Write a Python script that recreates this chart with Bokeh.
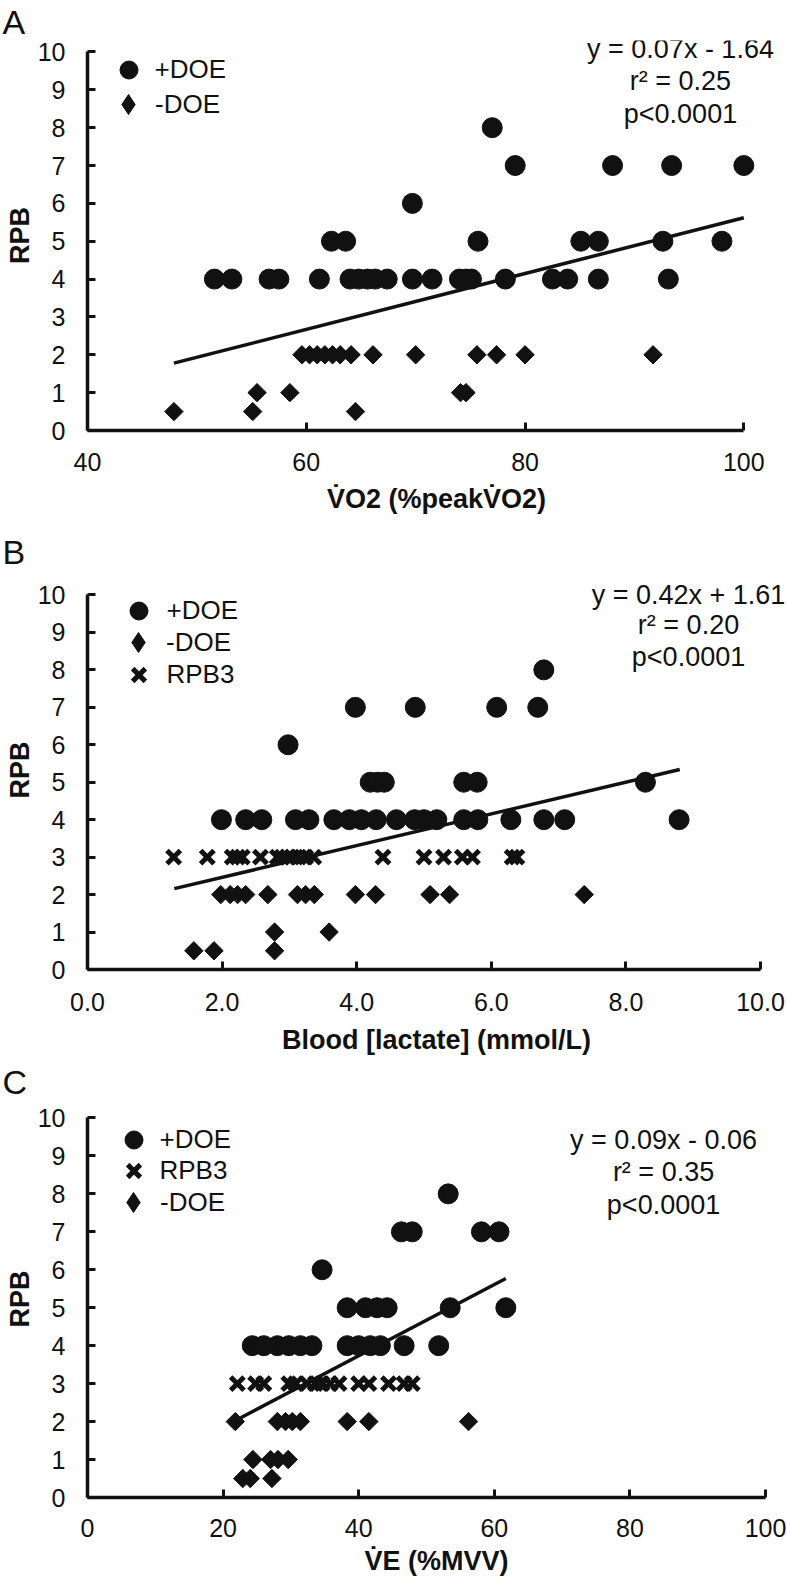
from bokeh.plotting import figure
from bokeh.layouts import column
from bokeh.models import Range1d, FixedTicker, Label, Legend, LegendItem
from bokeh.embed import file_html
from bokeh.resources import INLINE
import math

# ---------------- data ----------------
# Panel A: VO2 (%peak VO2) vs RPB
a_pos_x = [51.6, 53.2, 56.6, 57.5, 61.2, 64.0, 64.8, 65.6, 66.3, 67.4, 69.7, 71.5, 74.0, 74.6, 75.1,
           78.2, 82.5, 83.9, 86.7, 93.1,
           62.3, 63.6, 75.7, 85.1, 86.7, 92.6, 98.0,
           69.7,
           79.1, 88.0, 93.4, 100.0,
           77.0]
a_pos_y = [4] * 20 + [5] * 7 + [6] + [7] * 4 + [8]
a_neg_x = [59.6, 60.3, 61.0, 61.7, 62.4, 63.1, 64.1, 66.1, 70.0, 75.6, 77.4, 80.0, 91.7,
           55.5, 58.5, 74.1, 74.6,
           47.9, 55.1, 64.5]
a_neg_y = [2] * 13 + [1] * 4 + [0.5] * 3
a_trend_x = [47.9, 100.0]
a_trend_y = [1.78, 5.62]
a_stats = ["y = 0.07x - 1.64", "r² = 0.25", "p<0.0001"]
a_xticks = [40, 60, 80, 100]
a_xlabels = ["40", "60", "80", "100"]

# Panel B: Blood lactate vs RPB
b_pos_x = [1.99, 2.35, 2.59, 3.09, 3.29, 3.66, 3.89, 4.07, 4.29, 4.59, 4.86, 5.00, 5.19, 5.59, 5.80,
           6.29, 6.78, 7.09, 8.79,
           4.20, 4.31, 4.41, 5.59, 5.79, 8.29,
           2.98,
           3.98, 4.87, 6.08, 6.69,
           6.78]
b_pos_y = [4] * 19 + [5] * 6 + [6] + [7] * 4 + [8]
b_neg_x = [1.98, 2.12, 2.23, 2.35, 2.68, 3.12, 3.24, 3.37, 3.98, 4.28, 5.09, 5.38, 7.38,
           2.78, 3.59,
           1.58, 1.88, 2.78]
b_neg_y = [2] * 13 + [1] * 2 + [0.5] * 3
b_rpb3_x = [1.28, 1.78, 2.15, 2.23, 2.30, 2.57, 2.82, 2.89, 2.97, 3.04, 3.14, 3.24, 3.36, 4.39,
            5.00, 5.29, 5.57, 5.72, 6.31, 6.38]
b_rpb3_y = [3] * 20
b_trend_x = [1.29, 8.80]
b_trend_y = [2.16, 5.34]
b_stats = ["y = 0.42x + 1.61", "r² = 0.20", "p<0.0001"]
b_xticks = [0, 2, 4, 6, 8, 10]
b_xlabels = ["0.0", "2.0", "4.0", "6.0", "8.0", "10.0"]

# Panel C: VE (%MVV) vs RPB
c_pos_x = [24.3, 26.0, 28.0, 29.7, 31.4, 33.1, 38.3, 40.0, 41.7, 43.2, 46.7, 51.8,
           38.3, 41.0, 42.7, 44.2, 53.5, 61.7,
           34.6,
           46.3, 47.9, 58.1, 60.7,
           53.2]
c_pos_y = [4] * 12 + [5] * 6 + [6] + [7] * 4 + [8]
c_rpb3_x = [22.1, 24.8, 26.0, 29.7, 30.7, 32.4, 33.6, 34.6, 35.8, 37.1, 40.0, 41.5, 44.4, 46.7, 47.9]
c_rpb3_y = [3] * 15
c_neg_x = [21.8, 28.0, 29.2, 30.2, 31.4, 38.3, 41.5, 56.2,
           24.4, 27.0, 28.1, 29.6,
           22.9, 24.0, 27.2]
c_neg_y = [2] * 8 + [1] * 4 + [0.5] * 3
c_trend_x = [22.6, 61.7]
c_trend_y = [2.10, 5.77]
c_stats = ["y = 0.09x - 0.06", "r² = 0.35", "p<0.0001"]
c_xticks = [0, 20, 40, 60, 80, 100]
c_xlabels = ["0", "20", "40", "60", "80", "100"]

y_ticks = list(range(0, 11))

FONT = "Liberation Sans"
INK = "#111111"
FRAME_LEFT = 87


def make_panel(letter, xr, yend, xbounds, xticks, xlabels, xtitle, height, bottom,
               tick_standoff, x_title_standoff):
    p = figure(width=787, height=height, x_range=Range1d(*xr), y_range=Range1d(0, yend),
               output_backend="svg", toolbar_location=None,
               min_border_left=FRAME_LEFT, min_border_right=2,
               min_border_top=0, min_border_bottom=bottom)
    p.outline_line_color = None
    p.xgrid.visible = False
    p.ygrid.visible = False
    p.background_fill_color = "white"
    p.border_fill_color = "white"

    p.title.text = letter
    p.title.align = "left"
    p.title.offset = -85
    p.title.standoff = 0
    p.title.text_font = FONT
    p.title.text_font_size = "34px"
    p.title.text_font_style = "normal"
    p.title.text_color = INK

    xa = p.xaxis[0]
    ya = p.yaxis[0]
    xa.bounds = xbounds
    ya.bounds = (0, 10)
    xa.ticker = FixedTicker(ticks=xticks)
    xa.major_label_overrides = {t: l for t, l in zip(xticks, xlabels)}
    ya.ticker = FixedTicker(ticks=y_ticks)
    for ax in (xa, ya):
        ax.axis_line_width = 3.5
        ax.axis_line_color = INK
        ax.major_tick_line_width = 3
        ax.major_tick_line_color = INK
        ax.major_tick_in = 8
        ax.major_tick_out = 0
        ax.minor_tick_line_color = None
        ax.major_label_text_font = FONT
        ax.major_label_text_font_size = "25px"
        ax.major_label_text_color = INK
        ax.axis_label_text_font = FONT
        ax.axis_label_text_font_size = "27px"
        ax.axis_label_text_font_style = "bold"
        ax.axis_label_text_color = INK
    xa.major_label_standoff = tick_standoff
    xa.axis_label = xtitle
    xa.axis_label_standoff = x_title_standoff
    ya.major_label_standoff = 22
    ya.axis_label = "RPB"
    ya.axis_label_standoff = 0
    return p


def add_stats(p, x, ys, lines):
    for y, t in zip(ys, lines):
        p.add_layout(Label(x=x, y=y, text=t, text_font=FONT, text_font_size="27px",
                           text_color=INK, text_align="center", text_baseline="middle"))


def add_legend_item(p, label, renderer, cx, cy, frame_bottom, box=45, text_gap=27):
    # one legend per entry so that the entries can be spaced like the original
    lg = Legend(items=[LegendItem(label=label, renderers=[renderer])],
                location=(cx - FRAME_LEFT - box / 2, frame_bottom - cy - box / 2),
                orientation="vertical")
    lg.glyph_width = box
    lg.glyph_height = box
    lg.padding = 0
    lg.margin = 0
    lg.border_line_color = None
    lg.background_fill_alpha = 0
    lg.label_text_font = FONT
    lg.label_text_font_size = "26px"
    lg.label_text_color = INK
    lg.label_standoff = int(round(text_gap - box / 2))
    p.add_layout(lg)


def circles(p, x, y):
    return p.scatter(x, y, marker="circle", size=20, fill_color=INK, line_color=INK)


def diamonds(p, x, y):
    p.scatter(x, y, marker="square", size=13, angle=math.pi / 4,
              fill_color=INK, line_color=INK)
    # legend key (legend markers are never rotated, so use a diamond marker there)
    key = p.scatter(x, y, marker="diamond", size=20, fill_color=INK, line_color=INK)
    key.visible = False
    return key


def crosses(p, x, y):
    return p.scatter(x, y, marker="x", size=19, line_color=INK, line_width=5)


# ---------------- Panel A ----------------
pA = make_panel("A", (40, 103.81), 10.303, (40, 100), a_xticks, a_xlabels,
                "V\u0307O2 (%peakV\u0307O2)", 530, 100, 22, 10)
rA1 = circles(pA, a_pos_x, a_pos_y)
rA2 = diamonds(pA, a_neg_x, a_neg_y)
pA.line(a_trend_x, a_trend_y, line_width=3.5, line_color=INK)
add_stats(pA, 94.21, [10.08, 9.23, 8.36], a_stats)
add_legend_item(pA, "+DOE", rA1, 128, 69, 430)
add_legend_item(pA, "-DOE", rA2, 128, 104, 430, box=50)

# ---------------- Panel B ----------------
pB = make_panel("B", (0, 10.371), 10.653, (0, 10), b_xticks, b_xlabels,
                "Blood [lactate] (mmol/L)", 530, 91, 23, 11)
rB1 = circles(pB, b_pos_x, b_pos_y)
rB2 = diamonds(pB, b_neg_x, b_neg_y)
rB3 = crosses(pB, b_rpb3_x, b_rpb3_y)
pB.line(b_trend_x, b_trend_y, line_width=3.5, line_color=INK)
add_stats(pB, 8.93, [10.0, 9.2, 8.35], b_stats)
add_legend_item(pB, "+DOE", rB1, 138, 610 - 530, 969 - 530, text_gap=28)
add_legend_item(pB, "-DOE", rB2, 138, 642 - 530, 969 - 530, box=50, text_gap=28)
add_legend_item(pB, "RPB3", rB3, 138, 674 - 530, 969 - 530, text_gap=28)

# ---------------- Panel C ----------------
pC = make_panel("C", (0, 102.95), 10.46, (0, 100), c_xticks, c_xlabels,
                "V\u0307E (%MVV)", 523, 86, 21, 6)
rC1 = circles(pC, c_pos_x, c_pos_y)
rC3 = crosses(pC, c_rpb3_x, c_rpb3_y)
rC2 = diamonds(pC, c_neg_x, c_neg_y)
pC.line(c_trend_x, c_trend_y, line_width=3.5, line_color=INK)
add_stats(pC, 84.96, [9.42, 8.58, 7.71], c_stats)
add_legend_item(pC, "+DOE", rC1, 133, 1139 - 1060, 1497 - 1060)
add_legend_item(pC, "RPB3", rC3, 133, 1170.5 - 1060, 1497 - 1060)
add_legend_item(pC, "-DOE", rC2, 133, 1202 - 1060, 1497 - 1060, box=50)

layout = column(pA, pB, pC)
open("out.html", "w").write(file_html(layout, INLINE))
